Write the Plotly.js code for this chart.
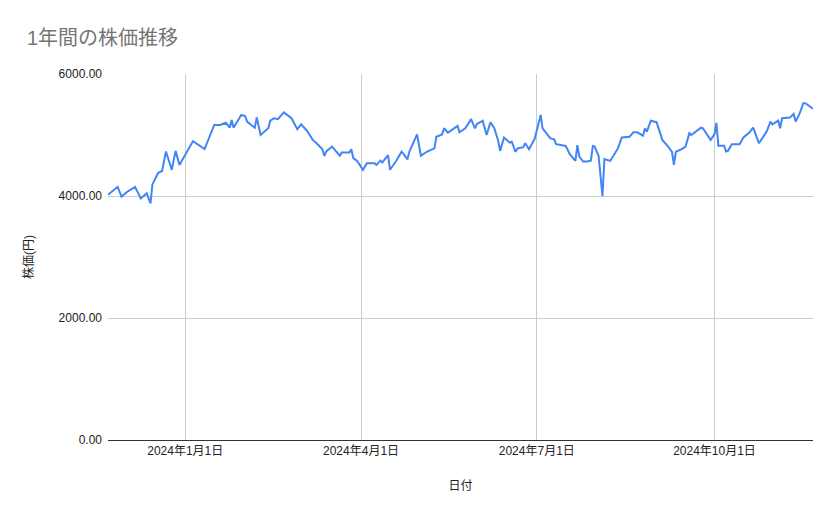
<!DOCTYPE html>
<html>
<head>
<meta charset="utf-8">
<script src="https://cdn.plot.ly/plotly-3.0.1.min.js"></script>
<style>
  html, body { margin: 0; padding: 0; background: #fff; }
  #grafico { width: 839px; height: 519px; }
</style>
</head>
<body>
<div id="grafico"></div>
<script>
const fechas = [
  '2023-11-22', '2023-11-27', '2023-11-29', '2023-12-02', '2023-12-06', '2023-12-09',
  '2023-12-12', '2023-12-14', '2023-12-15', '2023-12-18', '2023-12-20', '2023-12-22',
  '2023-12-25', '2023-12-27', '2023-12-29', '2024-01-05', '2024-01-11', '2024-01-16',
  '2024-01-19', '2024-01-22', '2024-01-24', '2024-01-25', '2024-01-26', '2024-01-30',
  '2024-02-01', '2024-02-02', '2024-02-06', '2024-02-07', '2024-02-09', '2024-02-13',
  '2024-02-14', '2024-02-16', '2024-02-18', '2024-02-21', '2024-02-25', '2024-02-28',
  '2024-03-01', '2024-03-04', '2024-03-07', '2024-03-09', '2024-03-12', '2024-03-13',
  '2024-03-14', '2024-03-17', '2024-03-21', '2024-03-22', '2024-03-26', '2024-03-27',
  '2024-03-28', '2024-03-30', '2024-04-02', '2024-04-04', '2024-04-08', '2024-04-09',
  '2024-04-11', '2024-04-12', '2024-04-15', '2024-04-16', '2024-04-19', '2024-04-22',
  '2024-04-23', '2024-04-25', '2024-04-26', '2024-04-30', '2024-05-02', '2024-05-05',
  '2024-05-09', '2024-05-10', '2024-05-13', '2024-05-14', '2024-05-16', '2024-05-21',
  '2024-05-22', '2024-05-25', '2024-05-28', '2024-05-30', '2024-05-31', '2024-06-03',
  '2024-06-05', '2024-06-07', '2024-06-09', '2024-06-11', '2024-06-12', '2024-06-14',
  '2024-06-17', '2024-06-18', '2024-06-20', '2024-06-21', '2024-06-24', '2024-06-25',
  '2024-06-27', '2024-06-30', '2024-07-03', '2024-07-04', '2024-07-08', '2024-07-10',
  '2024-07-11', '2024-07-16', '2024-07-18', '2024-07-21', '2024-07-22', '2024-07-23',
  '2024-07-25', '2024-07-27', '2024-07-29', '2024-07-30', '2024-07-31', '2024-08-02',
  '2024-08-04', '2024-08-05', '2024-08-08', '2024-08-12', '2024-08-14', '2024-08-18',
  '2024-08-20', '2024-08-22', '2024-08-25', '2024-08-26', '2024-08-27', '2024-08-29',
  '2024-09-01', '2024-09-04', '2024-09-07', '2024-09-09', '2024-09-10', '2024-09-11',
  '2024-09-14', '2024-09-16', '2024-09-18', '2024-09-19', '2024-09-24', '2024-09-25',
  '2024-09-29', '2024-10-01', '2024-10-02', '2024-10-03', '2024-10-06', '2024-10-07',
  '2024-10-08', '2024-10-10', '2024-10-14', '2024-10-16', '2024-10-19', '2024-10-21',
  '2024-10-22', '2024-10-24', '2024-10-28', '2024-10-30', '2024-10-31', '2024-11-03',
  '2024-11-04', '2024-11-05', '2024-11-09', '2024-11-11', '2024-11-12', '2024-11-14',
  '2024-11-16', '2024-11-17', '2024-11-21'
];

const precios = [
  4020, 4150, 3990, 4070, 4150, 3960,
  4045, 3880, 4190, 4380, 4410, 4730,
  4430, 4740, 4510, 4900, 4770, 5165,
  5165, 5200, 5120, 5245, 5120, 5330,
  5310, 5220, 5120, 5290, 5000, 5110,
  5235, 5275, 5260, 5370, 5275, 5095,
  5175, 5070, 4920, 4865, 4765, 4655,
  4730, 4810, 4660, 4715, 4715, 4765,
  4620, 4575, 4430, 4535, 4535, 4510,
  4580, 4550, 4670, 4430, 4565, 4725,
  4690, 4600, 4725, 5010, 4660, 4725,
  4780, 4970, 5010, 5110, 5040, 5150,
  5045, 5110, 5260, 5110, 5180, 5235,
  5000, 5210, 5110, 4905, 4740, 4960,
  4875, 4890, 4725, 4780, 4800, 4865,
  4765, 4945, 5330, 5110, 4945, 4930,
  4850, 4820, 4690, 4575, 4835, 4645,
  4565, 4565, 4580, 4820, 4810, 4655,
  4000, 4605, 4575, 4780, 4960, 4970,
  5045, 5045, 4990, 5110, 5055, 5235,
  5210, 4920, 4810, 4725, 4510, 4725,
  4770, 4810, 5030, 5000, 5120, 5110,
  4920, 5010, 5200, 4825, 4825, 4730,
  4740, 4850, 4850, 4960, 5040, 5120,
  5040, 4865, 5055, 5220, 5175, 5235,
  5110, 5275, 5285, 5345, 5220, 5345,
  5520, 5520, 5430
];

const ticksFecha = ['2024-01-01', '2024-04-01', '2024-07-01', '2024-10-01'];
const etiquetasFecha = ['2024年1月1日', '2024年4月1日', '2024年7月1日', '2024年10月1日'];
const ticksPrecio = [0, 2000, 4000, 6000];
const etiquetasPrecio = ['0.00', '2000.00', '4000.00', '6000.00'];

const fuente = "Arial, 'Liberation Sans', 'Noto Sans CJK JP', sans-serif";

const traza = {
  x: fechas,
  y: precios,
  type: 'scatter',
  mode: 'lines',
  line: { color: '#4285F4', width: 2 },
  hoverinfo: 'skip'
};

const layout = {
  width: 839,
  height: 519,
  paper_bgcolor: '#ffffff',
  plot_bgcolor: '#ffffff',
  font: { family: fuente, color: '#222222', size: 12 },
  showlegend: false,
  title: {
    text: '1年間の株価推移',
    xref: 'container',
    x: 27 / 839,
    xanchor: 'left',
    yref: 'container',
    y: 1 - 38 / 519,
    yanchor: 'middle',
    font: { family: fuente, size: 20, color: '#757575' }
  },
  margin: { l: 108, r: 26, t: 74, b: 79 },
  xaxis: {
    type: 'date',
    range: [fechas[0], fechas[fechas.length - 1]],
    tickvals: ticksFecha,
    ticktext: etiquetasFecha,
    ticks: '',
    showgrid: true,
    gridcolor: '#cccccc',
    gridwidth: 1,
    showline: true,
    linecolor: '#333333',
    linewidth: 1,
    zeroline: false,
    tickfont: { size: 12, color: '#222222' },
    title: { text: '日付', standoff: 24, font: { size: 12, color: '#222222' } }
  },
  yaxis: {
    range: [0, 6000],
    tickvals: ticksPrecio,
    ticktext: etiquetasPrecio,
    ticks: '',
    ticklabelstandoff: 5,
    showgrid: true,
    gridcolor: '#cccccc',
    gridwidth: 1,
    zeroline: false,
    showline: false,
    tickfont: { size: 12, color: '#222222' },
    title: { text: '株価(円)', standoff: 22, font: { size: 12, color: '#222222' } }
  }
};

Plotly.newPlot('grafico', [traza], layout, { displayModeBar: false, staticPlot: true });
</script>
</body>
</html>
